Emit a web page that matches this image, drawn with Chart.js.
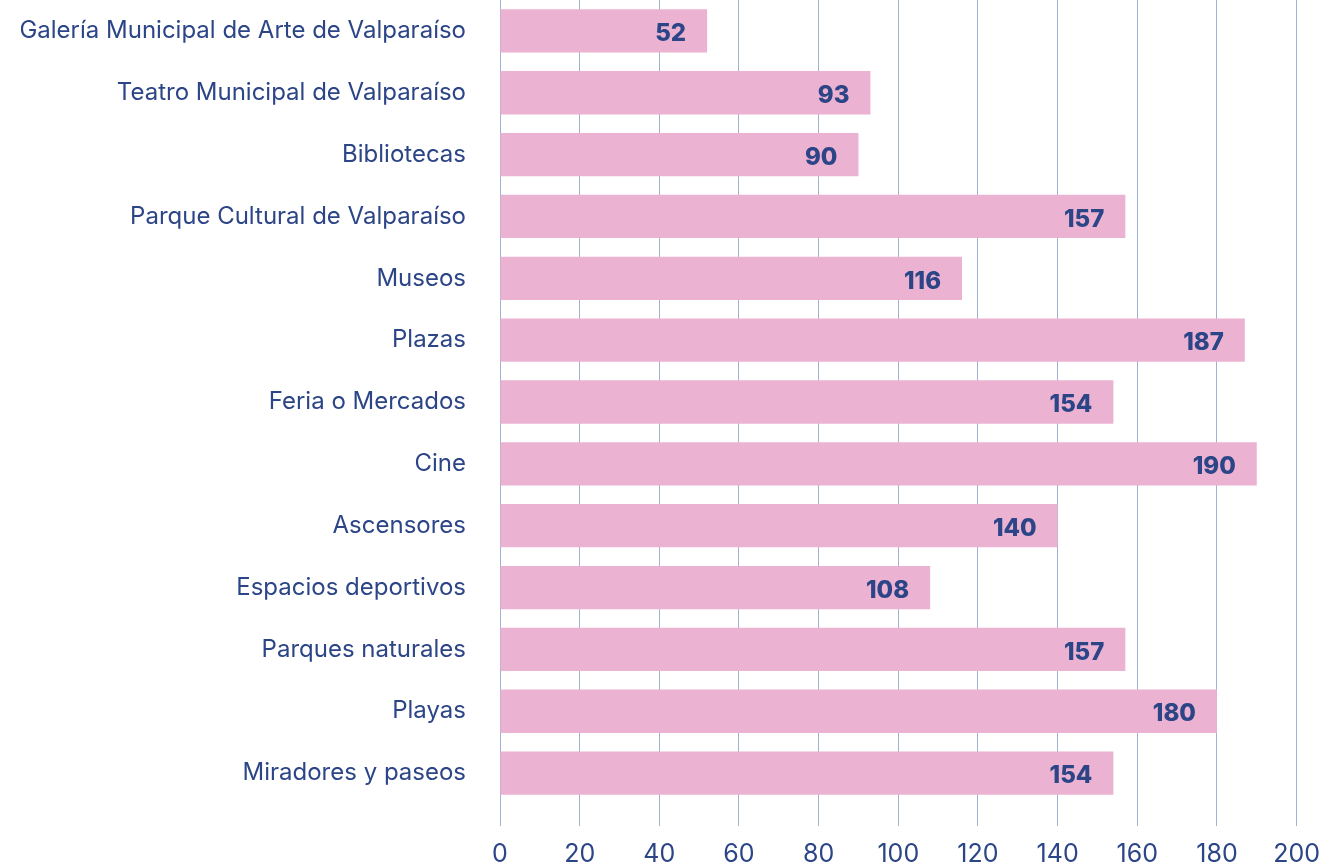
<!DOCTYPE html>
<html>
<head>
<meta charset="utf-8">
<script src="https://cdn.jsdelivr.net/npm/chart.js@4/dist/chart.umd.min.js"></script>
<style>
  html, body { margin: 0; padding: 0; background: #ffffff; }
  #wrap { width: 1333px; height: 866px; position: relative; }
</style>
</head>
<body>
<div id="wrap"><canvas id="chart" width="1333" height="866"></canvas></div>
<script>
// Espacios culturales y de recreación
const categories = [
  'Galería Municipal de Arte de Valparaíso',
  'Teatro Municipal de Valparaíso',
  'Bibliotecas',
  'Parque Cultural de Valparaíso',
  'Museos',
  'Plazas',
  'Feria o Mercados',
  'Cine',
  'Ascensores',
  'Espacios deportivos',
  'Parques naturales',
  'Playas',
  'Miradores y paseos'
];
const values = [52, 93, 90, 157, 116, 187, 154, 190, 140, 108, 157, 180, 154];
const xTicks = [0, 20, 40, 60, 80, 100, 120, 140, 160, 180, 200];

const TEXT = '#2c4587';
const BAR = '#ebb2d2';
const GRID = '#a3b0d0';
const FONT = 'Inter';

// Writes each value near the right end of its bar
const valueLabels = {
  id: 'valueLabels',
  afterDatasetsDraw(chart) {
    const ctx = chart.ctx;
    const meta = chart.getDatasetMeta(0);
    ctx.save();
    ctx.font = '800 24px ' + FONT;
    ctx.fillStyle = TEXT;
    ctx.textAlign = 'right';
    ctx.textBaseline = 'middle';
    meta.data.forEach((bar, i) => {
      ctx.fillText(String(values[i]), bar.x - 21, bar.y + 3);
    });
    ctx.restore();
  }
};

new Chart(document.getElementById('chart'), {
  type: 'bar',
  data: {
    labels: categories,
    datasets: [{
      data: values,
      backgroundColor: BAR,
      borderWidth: 0,
      categoryPercentage: 0.7,
      barPercentage: 1.0
    }]
  },
  options: {
    indexAxis: 'y',
    responsive: false,
    animation: false,
    layout: { padding: { left: 0, right: 36, top: 0, bottom: 0 } },
    plugins: { legend: { display: false }, tooltip: { enabled: false } },
    scales: {
      x: {
        min: 0,
        max: 200,
        afterBuildTicks(scale) { scale.ticks = xTicks.map(v => ({ value: v })); },
        afterFit(scale) {
          scale.height = 62;
          scale.paddingTop = 0; scale.paddingBottom = 0;
        },
        border: { display: false },
        grid: { color: GRID, lineWidth: 1, tickLength: 22, drawTicks: true },
        ticks: { color: TEXT, font: { family: FONT, size: 25 }, padding: 13, maxRotation: 0 }
      },
      y: {
        afterFit(scale) {
          scale.width = 500;
          scale.paddingTop = 0; scale.paddingBottom = 0;
        },
        border: { display: false },
        grid: { display: false },
        ticks: { color: TEXT, font: { family: FONT, size: 24 }, padding: 26 }
      }
    }
  },
  plugins: [valueLabels]
});
</script>
</body>
</html>
